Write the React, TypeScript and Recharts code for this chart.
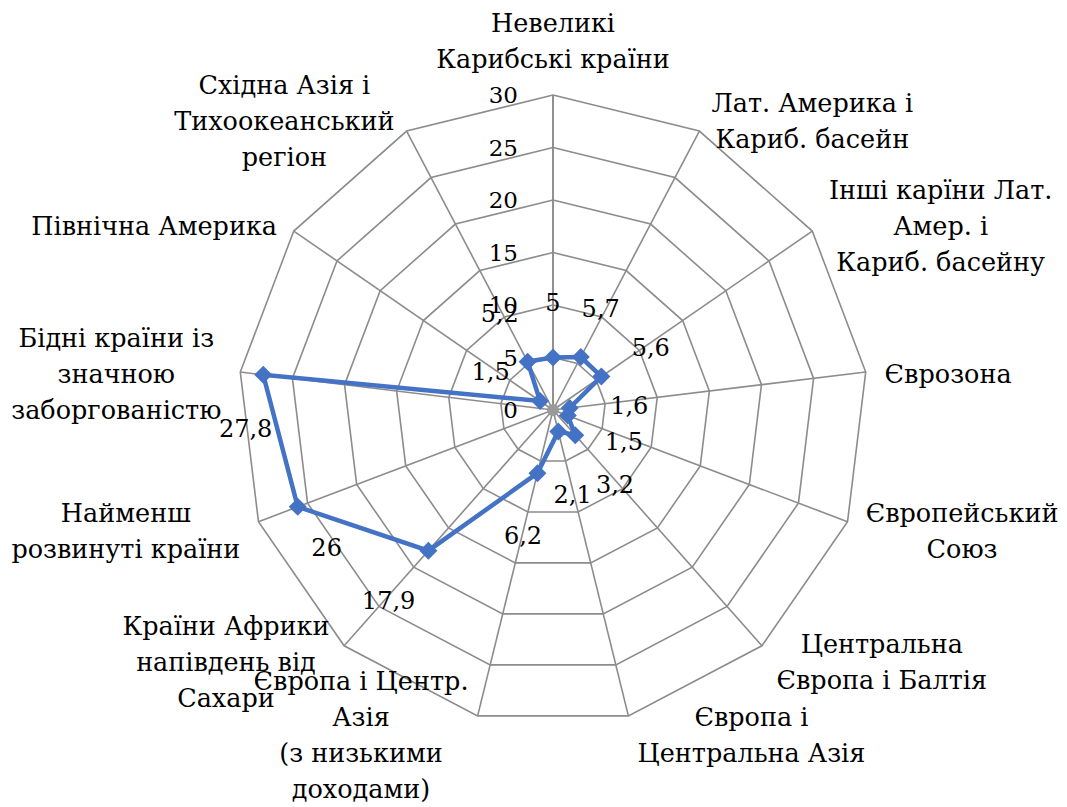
import React from "react";
import { RadarChart, Radar, PolarGrid, PolarAngleAxis, PolarRadiusAxis } from "recharts";

const categories = [
  "Невеликі\nКарибські країни",
  "Лат. Америка і\nКариб. басейн",
  "Інші карїни Лат.\nАмер. і\nКариб. басейну",
  "Єврозона",
  "Європейський\nСоюз",
  "Центральна\nЄвропа і Балтія",
  "Європа і\nЦентральна Азія",
  "Європа і Центр.\nАзія\n(з низькими\nдоходами)",
  "Країни Африки\nнапівдень від\nСахари",
  "Найменш\nрозвинуті країни",
  "Бідні країни із\nзначною\nзаборгованістю",
  "Північна Америка",
  "Східна Азія і\nТихоокеанський\nрегіон",
];

const values = [5, 5.7, 5.6, 1.6, 1.5, 3.2, 2.1, 6.2, 17.9, 26, 27.8, 1.5, 5.2];

// a couple of value labels were moved by hand in the original so they don't hit the category text
const labelShift: [number, number][] = [
  [0, 0], [-8, 0], [0, 0], [0, 0], [0, 0], [0, 0], [0, 0],
  [0, 0], [0, 0], [85, 15], [42, 56], [0, 0], [0, 0],
];

const data = categories.map((name, i) => ({ name, value: values[i] }));

const FONT = "'DejaVu Serif'";
const CX = 553;
const CY = 410;
const R = 315;
const GRID = "#8c8c8c";
const BLUE = "#4472C4";
const N = categories.length;

let ctx: CanvasRenderingContext2D | null = null;
function textWidth(s: string, size: number) {
  if (!ctx) ctx = document.createElement("canvas").getContext("2d");
  if (!ctx) return s.length * size * 0.55;
  ctx.font = `${size}px ${FONT}`;
  return ctx.measureText(s).width;
}

function CategoryTick(props: any) {
  const name = props.payload?.value as string;
  const i = categories.indexOf(name);
  const phi = (i * 2 * Math.PI) / N;
  const s = Math.sin(phi);
  const c = Math.cos(phi);
  const vx = CX + R * s;
  const vy = CY - R * c;
  const lines = name.split("\n");
  const size = 25.5;
  const lh = 36;
  const w = Math.max(...lines.map((l) => textWidth(l, size)));
  const gap = 6 + 13 * Math.abs(s);
  let bx = vx;
  if (s > 0.1) bx = vx + gap + w / 2;
  else if (s < -0.1) bx = vx - gap - w / 2;
  const h = lines.length * lh;
  let by = vy - c * 16 + 4;
  if (i === 0) by = vy - 18 - h / 2;
  const y0 = by - ((lines.length - 1) * lh) / 2;
  return (
    <text fontFamily={FONT} fontSize={size} fill="#000" textAnchor="middle">
      {lines.map((l, k) => (
        <tspan key={k} x={bx} y={y0 + k * lh} dominantBaseline="central">
          {l}
        </tspan>
      ))}
    </text>
  );
}

function RadiusTick(props: any) {
  const { x, y, payload } = props;
  return (
    <g>
      {payload.value === 0 && <circle cx={x} cy={y} r={6} fill="#9a9a9a" />}
      <text x={x - 35} y={y} textAnchor="end" dominantBaseline="central" fontFamily={FONT} fontSize={23} fill="#000">
        {payload.value}
      </text>
    </g>
  );
}

function Marker(props: any) {
  const { cx, cy, index } = props;
  const d = 9;
  const phi = (index * 2 * Math.PI) / N;
  const lx = cx + 60 * Math.sin(phi) + labelShift[index][0];
  const ly = cy - 60 * Math.cos(phi) + 5 + labelShift[index][1];
  return (
    <g key={`m-${index}`}>
      <polygon points={`${cx},${cy - d} ${cx + d},${cy} ${cx},${cy + d} ${cx - d},${cy}`} fill={BLUE} />
      <text x={lx} y={ly} textAnchor="middle" dominantBaseline="central" fontFamily={FONT} fontSize={24} fill="#000">
        {String(values[index]).replace(".", ",")}
      </text>
    </g>
  );
}

export default function App() {
  return (
    <div style={{ position: "absolute", left: 0, top: 0, background: "#fff" }}>
      <RadarChart width={1067} height={807} data={data} cx={CX} cy={CY} outerRadius={R} startAngle={90} endAngle={-270}>
        <PolarGrid gridType="polygon" stroke={GRID} strokeWidth={1.6} />
        <PolarAngleAxis dataKey="name" tick={CategoryTick} tickLine={false} axisLine={false} />
        <PolarRadiusAxis
          angle={90}
          domain={[0, 30]}
          tickCount={7}
          tick={RadiusTick}
          axisLine={{ stroke: GRID, strokeWidth: 1.6 }}
          tickLine={false}
        />
        <Radar
          dataKey="value"
          stroke={BLUE}
          strokeWidth={4.5}
          fill="none"
          fillOpacity={0}
          dot={Marker}
          isAnimationActive={false}
        />
      </RadarChart>
    </div>
  );
}
